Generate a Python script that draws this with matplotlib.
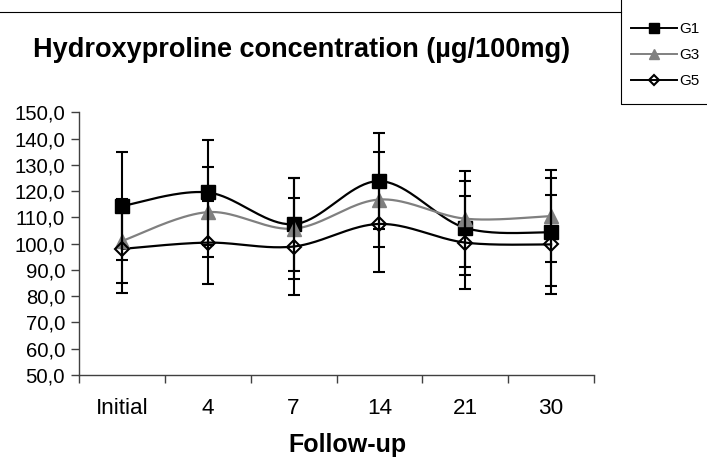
import numpy as np
import matplotlib
matplotlib.use("Agg")
import matplotlib.pyplot as plt
from matplotlib.lines import Line2D

plt.rcParams['font.family'] = ['Liberation Sans', 'DejaVu Sans']

# Data
labels = ['Initial', '4', '7', '14', '21', '30']
g1 = [114.3, 119.5, 107.4, 123.8, 106.0, 104.3]
g1_err = [20.5, 20.0, 17.7, 18.4, 18.0, 20.6]
g3 = [101.0, 112.0, 105.7, 116.8, 109.5, 110.5]
g3_err = [16.0, 17.0, 19.3, 18.0, 18.3, 17.5]
g5 = [98.0, 100.4, 98.9, 107.5, 100.4, 99.7]
g5_err = [16.7, 15.9, 18.4, 18.4, 17.6, 19.0]


def smooth(xs, ys, n=40):
    # Excel-like smoothed line: cubic Bezier with Catmull-Rom control points
    pts = np.column_stack([xs, ys]).astype(float)
    P = np.vstack([pts[0], pts, pts[-1]])
    t = np.linspace(0, 1, n)[:, None]
    segs = []
    for i in range(1, len(P) - 2):
        p0, p1, p2, p3 = P[i - 1], P[i], P[i + 1], P[i + 2]
        c1 = p1 + (p2 - p0) / 6
        c2 = p2 - (p3 - p1) / 6
        seg = (1 - t)**3*p1 + 3*(1 - t)**2*t*c1 + 3*(1 - t)*t**2*c2 + t**3*p2
        segs.append(seg)
    s = np.vstack(segs)
    return s[:, 0], s[:, 1]


W, H = 707, 457
fig = plt.figure(figsize=(W/100, H/100), dpi=100)
ax = fig.add_axes([79/W, 1 - 375/H, (594 - 79)/W, (375 - 112.3)/H])

x = np.arange(len(labels))
series = [
    (g1, g1_err, 'black', dict(marker='s', mfc='black', mec='black'), 10.5, 6.5),
    (g3, g3_err, '#808080', dict(marker='^', mfc='#808080', mec='#808080'), 10, 7),
    (g5, g5_err, 'black', dict(marker='D', mfc='none', mec='black', mew=1.5), 7, 5.5),
]
handles = []
for vals, err, col, mk, ms, lms in series:
    sx, sy = smooth(x, vals)
    ax.plot(sx, sy, color=col, lw=1.6, zorder=2)
    ax.plot(x, vals, ls='none', ms=ms, zorder=3, **mk)
    ax.errorbar(x, vals, yerr=err, fmt='none', ecolor='black', elinewidth=1.5,
                capsize=4.5, capthick=1.5, zorder=4)
    handles.append(Line2D([], [], color=col, lw=1.4, ms=lms, **mk))

ax.set_xlim(-0.5, len(labels) - 0.5)
ax.set_ylim(50, 150)
ax.set_yticks(np.arange(50, 151, 10))
ax.set_yticklabels([f"{v:.1f}".replace('.', ',') for v in np.arange(50, 151, 10)])
ax.set_xticks(np.arange(-0.5, len(labels), 1))
ax.set_xticklabels([])
ax.set_xticks(x, minor=True)
ax.set_xticklabels(labels, minor=True)
ax.tick_params(axis='x', which='minor', length=0, pad=16.3, labelsize=16.2)
ax.tick_params(axis='x', which='major', length=6, width=1, color='#404040')
ax.tick_params(axis='y', length=6, width=1, color='#404040', labelsize=14.6, pad=4)
for s in ['top', 'right']:
    ax.spines[s].set_visible(False)
for s in ['left', 'bottom']:
    ax.spines[s].set_color('#404040')
    ax.spines[s].set_linewidth(1)

fig.text(302/W, 1 - 50/H, 'Hydroxyproline concentration (µg/100mg)',
         ha='center', va='center', fontsize=19.5, fontweight='bold')
fig.text(347/W, 1 - 452/H, 'Follow-up', ha='center', va='baseline',
         fontsize=18, fontweight='bold')

# chart border line and legend box
fig.add_artist(Line2D([0, 621/W], [1 - 12/H, 1 - 12/H], transform=fig.transFigure,
                      color='black', lw=0.8))
fig.add_artist(Line2D([621/W, 621/W, 1], [1, 1 - 104/H, 1 - 104/H],
                      transform=fig.transFigure, color='black', lw=0.8))
fig.legend(handles, ['G1', 'G3', 'G5'], loc='upper left',
           bbox_to_anchor=(631/W, 1 - 22/H), frameon=False, fontsize=11,
           handlelength=3.0, handletextpad=0.15, labelspacing=0.8,
           borderpad=0, borderaxespad=0)

fig.savefig('out.png', dpi=100)
